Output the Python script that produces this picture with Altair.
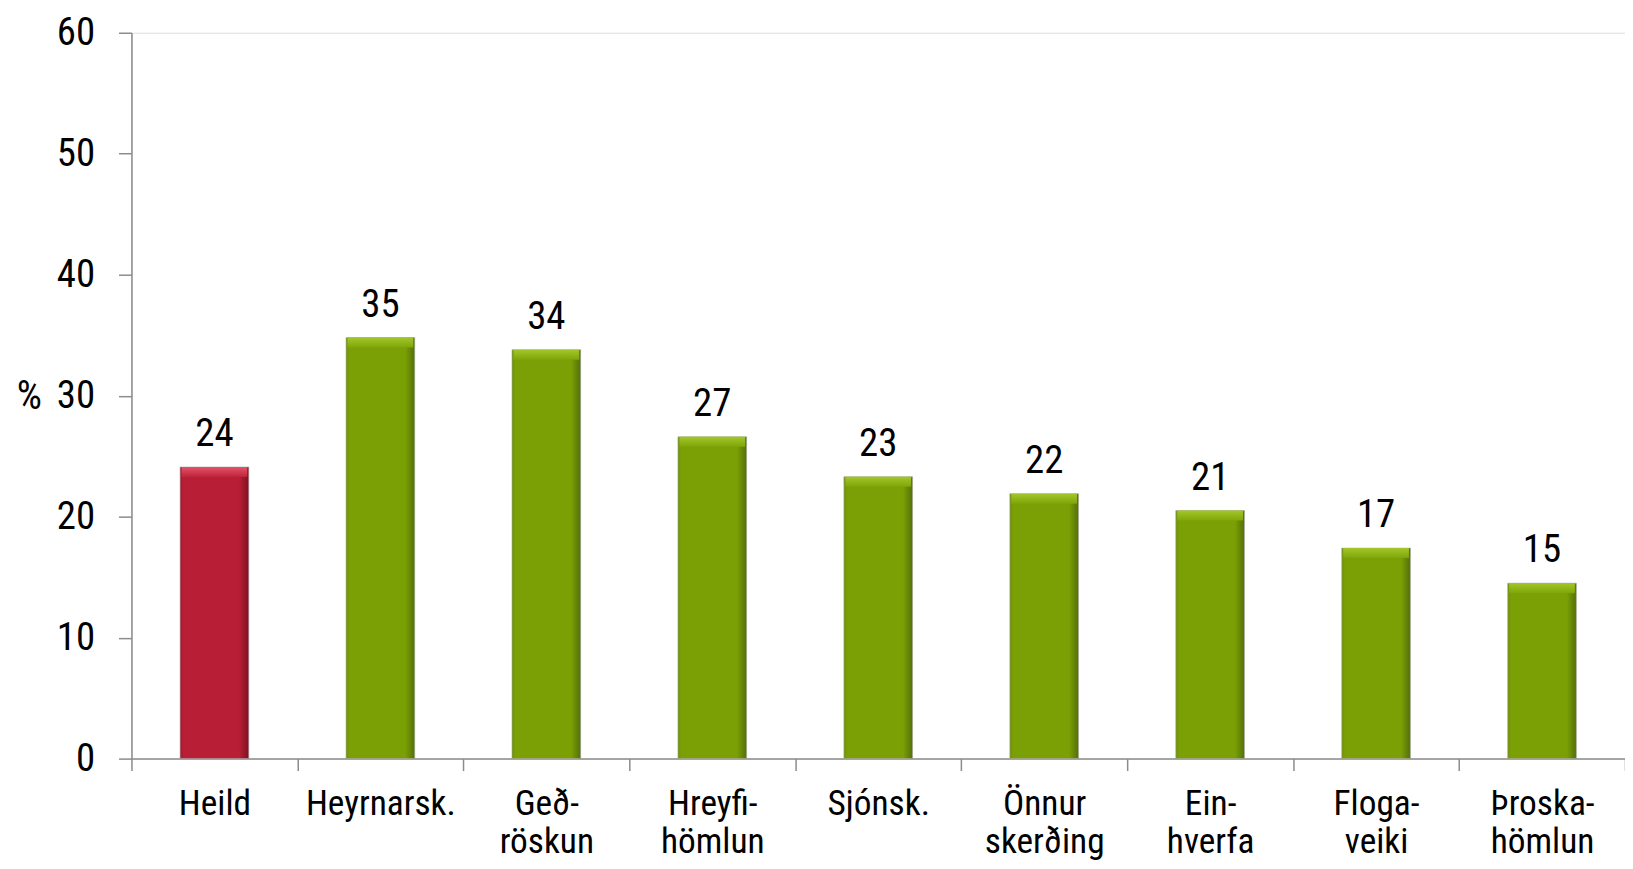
import altair as alt
import pandas as pd

categories = ["Heild", "Heyrnarsk.", "Geð-\nröskun", "Hreyfi-\nhömlun", "Sjónsk.",
              "Önnur\nskerðing", "Ein-\nhverfa", "Floga-\nveiki", "Þroska-\nhömlun"]
values = [24.1, 34.8, 33.8, 26.6, 23.3, 21.9, 20.5, 17.4, 14.5]
labels = ["24", "35", "34", "27", "23", "22", "21", "17", "15"]
groups = ["total", "other", "other", "other", "other", "other", "other", "other", "other"]

df = pd.DataFrame({"cat": categories, "val": values, "lab": labels, "grp": groups})

FONT = "Roboto Condensed, sans-serif"
FS = 38


def grad(dark, base, edge):
    return alt.LinearGradient(
        gradient="linear", x1=0, x2=1, y1=0, y2=0,
        stops=[alt.GradientStop(offset=0, color=edge),
               alt.GradientStop(offset=0.05, color=base),
               alt.GradientStop(offset=0.86, color=base),
               alt.GradientStop(offset=1, color=dark)])


def vgrad(top, bottom):
    return alt.LinearGradient(
        gradient="linear", x1=0, x2=0, y1=0, y2=1,
        stops=[alt.GradientStop(offset=0, color=top),
               alt.GradientStop(offset=1, color=bottom)])


red_fill = grad("#7E1022", "#B81E35", "#A31A2E")
green_fill = grad("#52700A", "#7BA005", "#6E9006")

x = alt.X("cat:N", sort=categories, title=None,
          scale=alt.Scale(paddingInner=0, paddingOuter=0),
          axis=alt.Axis(labelAngle=0, labelExpr="split(datum.label, '\\n')",
                        labelFont=FONT, labelFontSize=35.5, labelColor="black",
                        labelLineHeight=38, labelPadding=16, tickSize=12,
                        tickBand="extent", domainColor="#8c8c8c", tickColor="#8c8c8c",
                        domainWidth=1.5, tickWidth=1.5, labelBaseline="top"))

y = alt.Y("val:Q", title="%",
          scale=alt.Scale(domain=[0, 60], nice=False),
          axis=alt.Axis(values=[0, 10, 20, 30, 40, 50, 60], grid=False,
                        labelFont=FONT, labelFontSize=FS + 1, labelColor="black",
                        labelPadding=24, tickSize=13, domainColor="#8c8c8c",
                        tickColor="#8c8c8c", domainWidth=1.5, tickWidth=1.5,
                        titleFont=FONT, titleFontSize=FS + 2, titleFontWeight="normal",
                        titleAngle=0, titleAlign="center", titleBaseline="middle",
                        titleX=-103, titleY=365, titleColor="black"))

bars = alt.Chart(df).mark_bar(size=69, stroke="#a8a8a8", strokeWidth=0.6).encode(
    x=x, y=y,
    color=alt.condition(alt.datum.grp == "total", alt.value(red_fill), alt.value(green_fill)),
)

bevel = alt.Chart(df).mark_bar(size=66, y2Offset=10).encode(
    x=alt.X("cat:N", sort=categories),
    y="val:Q", y2="val:Q",
    color=alt.condition(alt.datum.grp == "total",
                        alt.value(vgrad("#E4526A", "#BE2439")),
                        alt.value(vgrad("#A2C72A", "#7FA508"))),
)

text = alt.Chart(df).mark_text(font=FONT, fontSize=FS + 1, baseline="alphabetic",
                               dy=-21, color="black").encode(
    x=alt.X("cat:N", sort=categories), y="val:Q", text="lab:N")

chart = (bars + bevel + text).properties(
    width=1500, height=729,
    padding={"left": 124, "top": 23, "right": 0, "bottom": 108},
    autosize=alt.AutoSizeParams(type="none"),
).configure_view(stroke=None).configure(background="white")

chart.save("out.html", embed_options={"renderer": "svg", "actions": False})
